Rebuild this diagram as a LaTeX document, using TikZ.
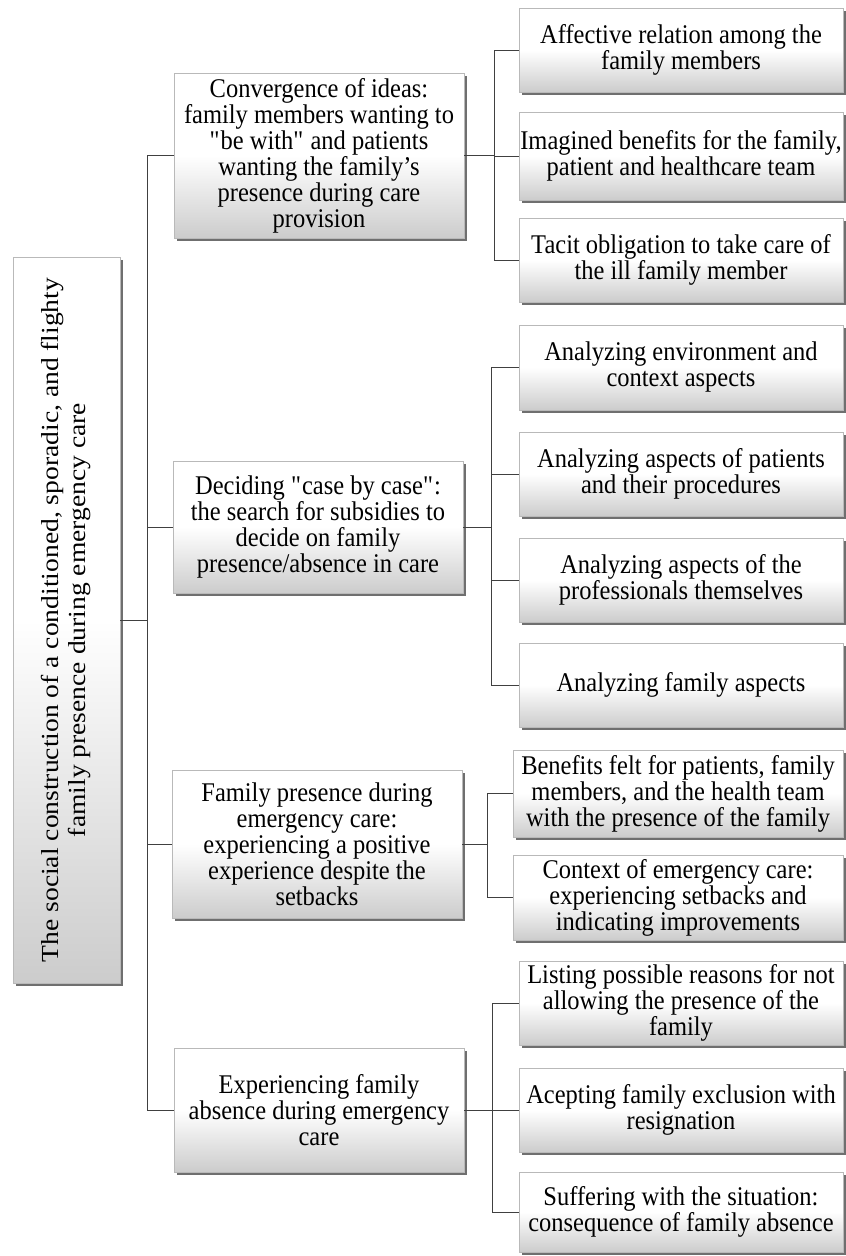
\documentclass[tikz,border=0pt]{standalone}
\usepackage{fontspec}
\setmainfont{Liberation Serif}[FakeStretch=0.907]
\newfontfamily\rootfont{Liberation Serif}[FakeStretch=1.125]
\usepackage{graphicx}
\usetikzlibrary{shadows}

\tikzset{
    box/.style={draw=gray!55, line width=0.6pt,
        top color=white, bottom color=gray!40, middle color=white,
        drop shadow={shadow xshift=2.5pt, shadow yshift=-3pt, fill=black!70, opacity=0.8},
        align=center, inner sep=1pt, font=\fontsize{27}{26}\selectfont},
    rootbox/.style={box, minimum width=107pt, minimum height=726pt},
    themebox/.style={box, minimum width=290pt, minimum height=#1},
    subbox/.style={box, minimum width=324pt, minimum height=#1},
    link/.style={draw=black!75, line width=1pt},
}

\begin{document}
\begin{tikzpicture}[x=1pt, y=-1pt]
    \path[use as bounding box, fill=white] (0,0) rectangle (846,1256);

    % core category
    \node[rootbox] (root) at (66.5,620)
        {\rotatebox{90}{\rootfont\fontsize{24.5}{27}\selectfont
         \begin{tabular}{@{}c@{}}The social construction of a conditioned, sporadic, and flighty\\ family presence during emergency care\end{tabular}}};

    % categories
    \node[themebox=165pt] (t1) at (319,155.5)
        {Convergence of ideas:\\ family members wanting to\\ \textquotedbl be with\textquotedbl{} and patients\\ wanting the family's\\ presence during care\\ provision};
    \node[themebox=132pt] (t2) at (318,527)
        {Deciding \textquotedbl case by case\textquotedbl:\\ the search for subsidies to\\ decide on family\\ presence/absence in care};
    \node[themebox=148pt] (t3) at (317,844)
        {Family presence during\\ emergency care:\\ experiencing a positive\\ experience despite the\\ setbacks};
    \node[themebox=124pt] (t4) at (319,1110)
        {Experiencing family\\ absence during emergency\\ care};

    % subcategories
    \node[subbox=84pt] (s1) at (681,50) {Affective relation among the\\ family members};
    \node[subbox=88pt] (s2) at (681,156) {Imagined benefits for the family,\\ patient and healthcare team};
    \node[subbox=84pt] (s3) at (681,260) {Tacit obligation to take care of\\ the ill family member};

    \node[subbox=85pt] (s4) at (681,367.5) {Analyzing environment and\\ context aspects};
    \node[subbox=84pt] (s5) at (681,474) {Analyzing aspects of patients\\ and their procedures};
    \node[subbox=84pt] (s6) at (681,580) {Analyzing aspects of the\\ professionals themselves};
    \node[subbox=84pt] (s7) at (681,685) {Analyzing family aspects};

    \node[subbox=87pt, minimum width=330pt] (s8) at (678,793.5) {Benefits felt for patients, family\\ members, and the health team\\ with the presence of the family};
    \node[subbox=85pt, minimum width=330pt] (s9) at (678,897.5) {Context of emergency care:\\ experiencing setbacks and\\ indicating improvements};

    \node[subbox=84pt] (s10) at (681,1003) {Listing possible reasons for not\\ allowing the presence of the\\ family};
    \node[subbox=84pt] (s11) at (681,1110) {Acepting family exclusion with\\ resignation};
    \node[subbox=80pt] (s12) at (681,1212) {Suffering with the situation:\\ consequence of family absence};

    % connectors
    \coordinate (trunk) at (147,620);
    \draw[link] (root.east) -- (trunk);
    \foreach \t in {t1,t2,t3,t4}
        \draw[link] (trunk) |- (\t.west);

    \coordinate (b1) at (494,155.5);
    \coordinate (b2) at (491,527);
    \coordinate (b3) at (487,844);
    \coordinate (b4) at (492,1110);
    \draw[link] (t1.east) -- (b1);
    \draw[link] (t2.east) -- (b2);
    \draw[link] (t3.east) -- (b3);
    \draw[link] (t4.east) -- (b4);
    \foreach \s in {s1,s2,s3}
        \draw[link] (b1) |- (\s.west);
    \foreach \s in {s4,s5,s6,s7}
        \draw[link] (b2) |- (\s.west);
    \foreach \s in {s8,s9}
        \draw[link] (b3) |- (\s.west);
    \foreach \s in {s10,s11,s12}
        \draw[link] (b4) |- (\s.west);
\end{tikzpicture}
\end{document}
